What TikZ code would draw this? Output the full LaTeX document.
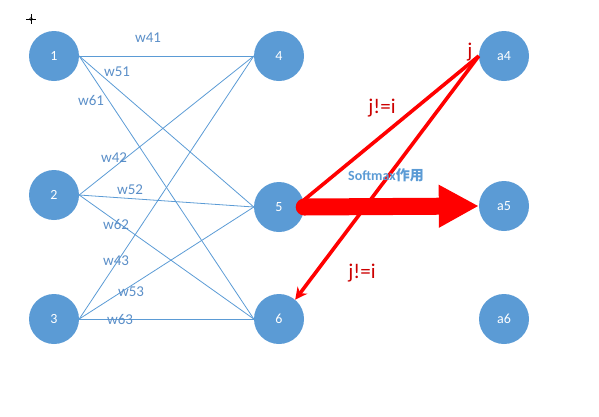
\documentclass[tikz,border=0pt]{standalone}
\usepackage{fontspec}
\setmainfont{Carlito}
\newfontfamily\cjkfont{Noto Sans CJK SC}
\usetikzlibrary{arrows.meta}
\definecolor{nodeblue}{HTML}{5B9BD5}
\definecolor{wtblue}{HTML}{5B8FC8}

\begin{document}
\begin{tikzpicture}[x=1pt, y=-1pt,
    neuron/.style={circle, fill=nodeblue, minimum size=50pt, inner sep=0pt,
      text=white, font=\fontsize{14}{16}\selectfont},
    link/.style={nodeblue, line width=0.8pt},
    wt/.style={text=wtblue, font=\fontsize{15}{17}\selectfont},
    redline/.style={red, line width=3.6pt},
    redtxt/.style={text=red!80!black, font=\fontsize{21}{23}\selectfont}]
  \useasboundingbox (0,0) rectangle (599,416);
  % little cursor mark
  \draw[black, line width=0.5pt] (26,19) -- (36,19) (31,14) -- (31,24);
  \draw[black, line width=0.4pt] (31,19) circle (1.5pt);
  % input layer
  \node[neuron] (n1) at (54,56) {1};
  \node[neuron] (n2) at (54,195) {2};
  \node[neuron] (n3) at (54,319) {3};
  % output layer
  \node[neuron] (n4) at (279,56) {4};
  \node[neuron] (n5) at (279,207) {5};
  \node[neuron] (n6) at (279,319) {6};
  % after softmax
  \node[neuron] (a4) at (504,56) {a4};
  \node[neuron] (a5) at (504,206) {a5};
  \node[neuron] (a6) at (504,319) {a6};
  % weights
  \foreach \i in {1,2,3}
    \foreach \o in {4,5,6}
      \draw[link] (n\i.east) -- (n\o.west);
  \node[wt] at (148,38) {w41};
  \node[wt] at (117,72) {w51};
  \node[wt] at (91,100) {w61};
  \node[wt] at (114,158) {w42};
  \node[wt] at (130,190) {w52};
  \node[wt] at (116,224) {w62};
  \node[wt] at (116,261) {w43};
  \node[wt] at (131,292) {w53};
  \node[wt] at (120,319) {w63};
  % softmax
  \draw[red, line width=17pt, line cap=round,
    -{Triangle[length=40pt, width=40pt]}] (n5.east) -- (a5.west);
  \draw[redline] (a4.west) -- (n5.15);
  \draw[redline, -{Stealth[length=12pt, width=12pt]}] (a4.west) -- (n6.50);
  \node[redtxt] at (470,52) {j};
  \node[redtxt] at (382,108) {j!=i};
  \node[redtxt] at (362,273) {j!=i};
  \node[text=nodeblue, font=\fontsize{14}{16}\selectfont\bfseries] at (386,175)
    {Softmax\cjkfont 作用};
\end{tikzpicture}
\end{document}
